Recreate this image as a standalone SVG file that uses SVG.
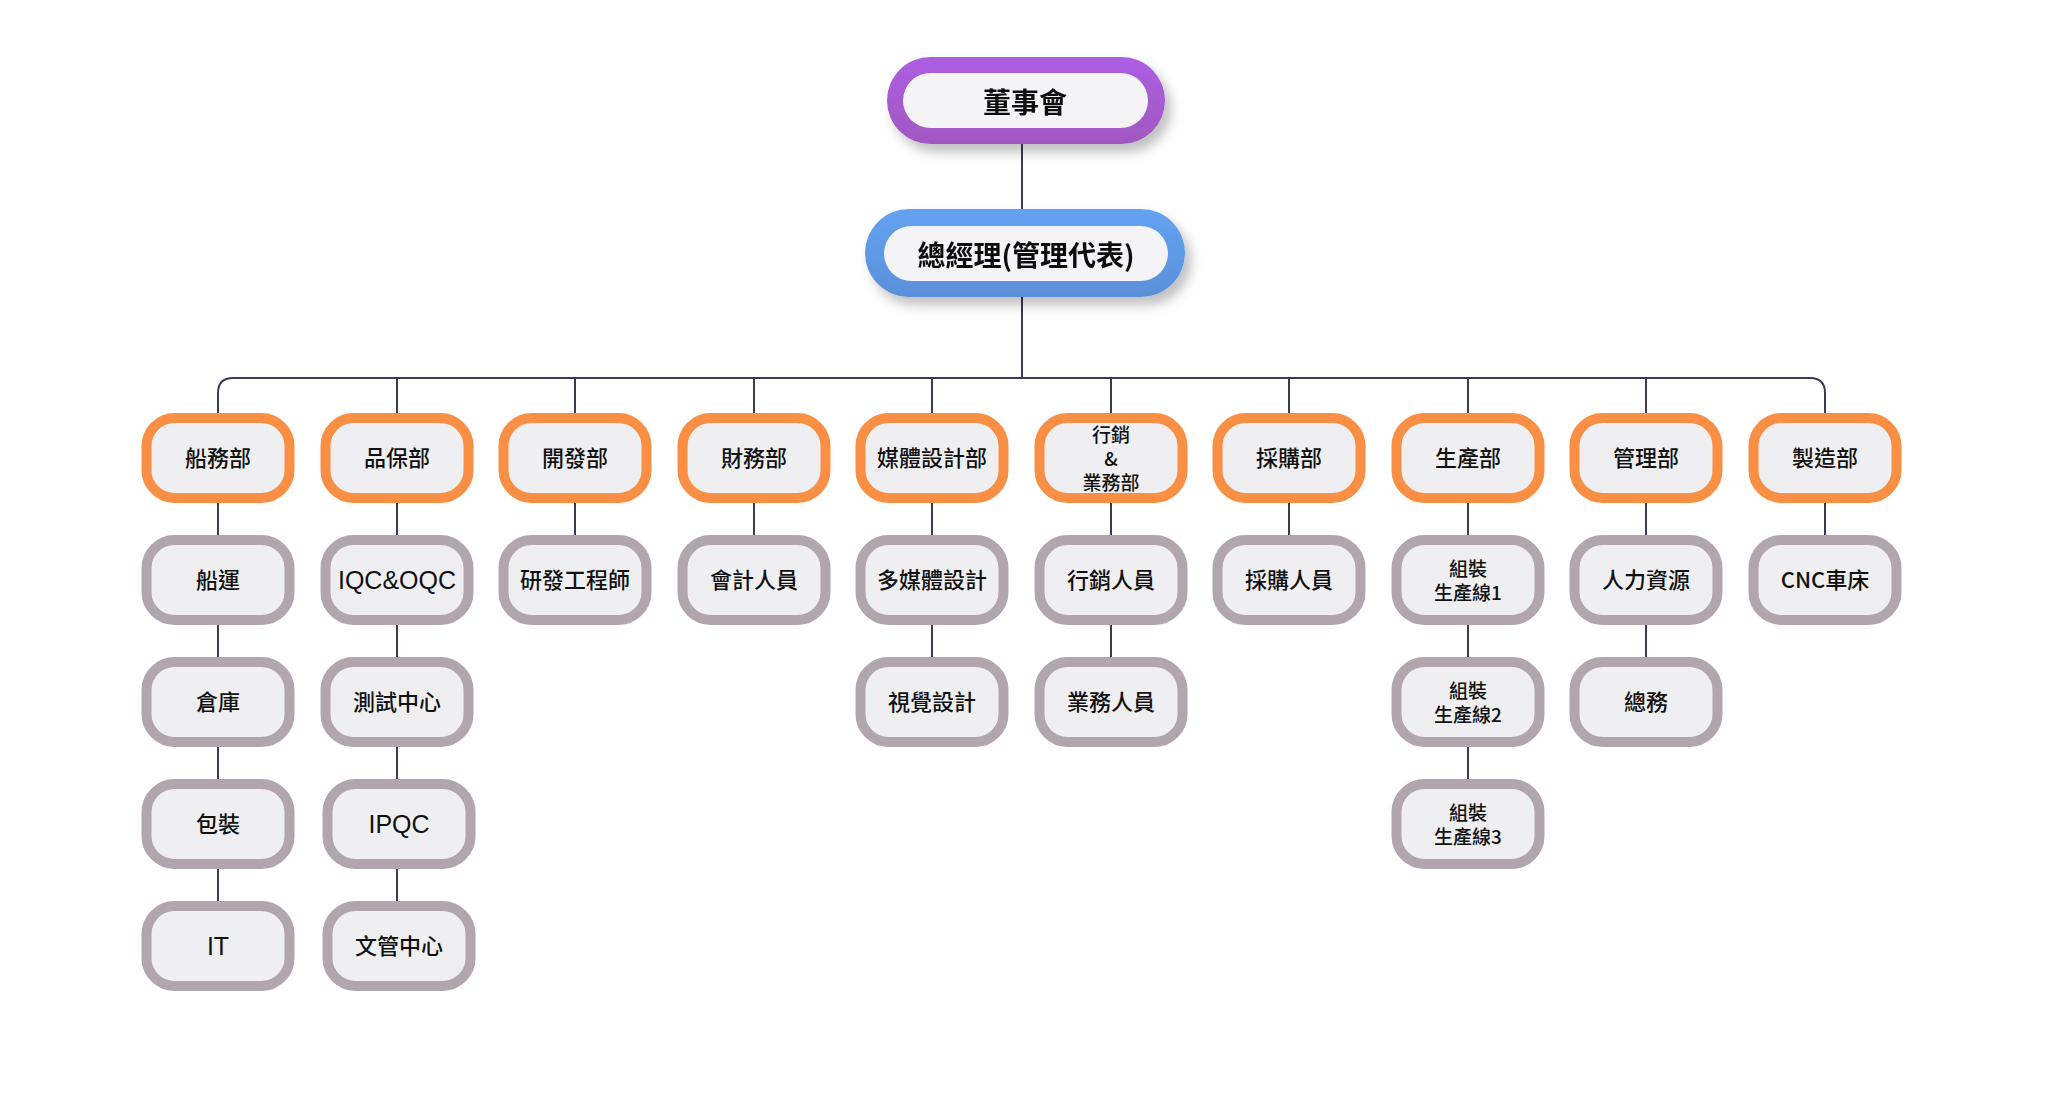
<svg xmlns="http://www.w3.org/2000/svg" width="2066" height="1100" viewBox="0 0 2066 1100">
<style>
text{font-family:"Noto Sans CJK TC","Noto Sans CJK SC",sans-serif;fill:#111;text-anchor:middle;dominant-baseline:central}
.n rect{fill:#efeff1;stroke-width:10}
.d rect{stroke:#f98f45}
.s rect{stroke:#b1a5ae}
.n text{font-size:22px;font-weight:500}
.n text.sm{font-size:19px}
.n text.lat{font-family:"Liberation Sans",sans-serif;font-weight:400;font-size:25px}
.t text{font-size:28px;font-weight:700}
#conn path{fill:none;stroke:#3b3a55;stroke-width:2}
</style>
<defs>
<filter id="sh" x="-20%" y="-30%" width="140%" height="170%"><feDropShadow dx="6" dy="8" stdDeviation="6" flood-color="#000" flood-opacity="0.25"/></filter>
<linearGradient id="gp" x1="0" y1="0" x2="0" y2="1"><stop offset="0" stop-color="#ac5ee2"/><stop offset="1" stop-color="#a058c0"/></linearGradient>
<linearGradient id="gb" x1="0" y1="0" x2="0" y2="1"><stop offset="0" stop-color="#64a2f2"/><stop offset="1" stop-color="#5a90d8"/></linearGradient>
</defs>
<g id="conn">
<path d="M1022 144V209M1022 297V378M218 413V393Q218 378 233 378H1810Q1825 378 1825 393V413"/>
<path d="M397 378V413M575 378V413M754 378V413M932 378V413M1111 378V413M1289 378V413M1468 378V413M1646 378V413"/>
<path d="M218 503V535M218 625V657M218 747V779M218 869V901"/>
<path d="M397 503V535M397 625V657M397 747V779M397 869V901"/>
<path d="M575 503V535M754 503V535M932 503V535M932 625V657M1111 503V535M1111 625V657M1289 503V535"/>
<path d="M1468 503V535M1468 625V657M1468 747V779M1646 503V535M1646 625V657M1825 503V535"/>
</g>
<g id="board" class="t" filter="url(#sh)"><rect x="887" y="57" width="278" height="87" rx="43.5" fill="url(#gp)"/><rect x="903" y="73" width="245" height="55" rx="27.5" fill="#f4f4f6"/><text x="1025" y="101">董事會</text></g>
<g id="gm" class="t" filter="url(#sh)"><rect x="865" y="209" width="320" height="88" rx="44" fill="url(#gb)"/><rect x="884" y="226" width="284" height="55" rx="27.5" fill="#f4f4f6"/><text x="1026" y="254">總經理(管理代表)</text></g>
<g class="n d">
<g id="d0" transform="translate(218,458)"><rect x="-71.5" y="-40" width="143" height="80" rx="28"/><text y="-2">船務部</text></g>
<g id="d1" transform="translate(397,458)"><rect x="-71.5" y="-40" width="143" height="80" rx="28"/><text y="-2">品保部</text></g>
<g id="d2" transform="translate(575,458)"><rect x="-71.5" y="-40" width="143" height="80" rx="28"/><text y="-2">開發部</text></g>
<g id="d3" transform="translate(754,458)"><rect x="-71.5" y="-40" width="143" height="80" rx="28"/><text y="-2">財務部</text></g>
<g id="d4" transform="translate(932,458)"><rect x="-71.5" y="-40" width="143" height="80" rx="28"/><text y="-2">媒體設計部</text></g>
<g id="d5" transform="translate(1111,458)"><rect x="-71.5" y="-40" width="143" height="80" rx="28"/><text class="sm" y="-25">行銷</text><text class="sm" y="-1">&amp;</text><text class="sm" y="23">業務部</text></g>
<g id="d6" transform="translate(1289,458)"><rect x="-71.5" y="-40" width="143" height="80" rx="28"/><text y="-2">採購部</text></g>
<g id="d7" transform="translate(1468,458)"><rect x="-71.5" y="-40" width="143" height="80" rx="28"/><text y="-2">生產部</text></g>
<g id="d8" transform="translate(1646,458)"><rect x="-71.5" y="-40" width="143" height="80" rx="28"/><text y="-2">管理部</text></g>
<g id="d9" transform="translate(1825,458)"><rect x="-71.5" y="-40" width="143" height="80" rx="28"/><text y="-2">製造部</text></g>
</g>
<g class="n s">
<g id="s00" transform="translate(218,580)"><rect x="-71.5" y="-40" width="143" height="80" rx="28"/><text y="-2">船運</text></g>
<g id="s01" transform="translate(218,702)"><rect x="-71.5" y="-40" width="143" height="80" rx="28"/><text y="-2">倉庫</text></g>
<g id="s02" transform="translate(218,824)"><rect x="-71.5" y="-40" width="143" height="80" rx="28"/><text y="-2">包裝</text></g>
<g id="s03" transform="translate(218,946)"><rect x="-71.5" y="-40" width="143" height="80" rx="28"/><text class="lat">IT</text></g>
<g id="s10" transform="translate(397,580)"><rect x="-71.5" y="-40" width="143" height="80" rx="28"/><text class="lat">IQC&amp;OQC</text></g>
<g id="s11" transform="translate(397,702)"><rect x="-71.5" y="-40" width="143" height="80" rx="28"/><text y="-2">測試中心</text></g>
<g id="s12" transform="translate(399,824)"><rect x="-71.5" y="-40" width="143" height="80" rx="28"/><text class="lat">IPQC</text></g>
<g id="s13" transform="translate(399,946)"><rect x="-71.5" y="-40" width="143" height="80" rx="28"/><text y="-2">文管中心</text></g>
<g id="s20" transform="translate(575,580)"><rect x="-71.5" y="-40" width="143" height="80" rx="28"/><text y="-2">研發工程師</text></g>
<g id="s30" transform="translate(754,580)"><rect x="-71.5" y="-40" width="143" height="80" rx="28"/><text y="-2">會計人員</text></g>
<g id="s40" transform="translate(932,580)"><rect x="-71.5" y="-40" width="143" height="80" rx="28"/><text y="-2">多媒體設計</text></g>
<g id="s41" transform="translate(932,702)"><rect x="-71.5" y="-40" width="143" height="80" rx="28"/><text y="-2">視覺設計</text></g>
<g id="s50" transform="translate(1111,580)"><rect x="-71.5" y="-40" width="143" height="80" rx="28"/><text y="-2">行銷人員</text></g>
<g id="s51" transform="translate(1111,702)"><rect x="-71.5" y="-40" width="143" height="80" rx="28"/><text y="-2">業務人員</text></g>
<g id="s60" transform="translate(1289,580)"><rect x="-71.5" y="-40" width="143" height="80" rx="28"/><text y="-2">採購人員</text></g>
<g id="s70" transform="translate(1468,580)"><rect x="-71.5" y="-40" width="143" height="80" rx="28"/><text class="sm" y="-13">組裝</text><text class="sm" y="11">生產線1</text></g>
<g id="s71" transform="translate(1468,702)"><rect x="-71.5" y="-40" width="143" height="80" rx="28"/><text class="sm" y="-13">組裝</text><text class="sm" y="11">生產線2</text></g>
<g id="s72" transform="translate(1468,824)"><rect x="-71.5" y="-40" width="143" height="80" rx="28"/><text class="sm" y="-13">組裝</text><text class="sm" y="11">生產線3</text></g>
<g id="s80" transform="translate(1646,580)"><rect x="-71.5" y="-40" width="143" height="80" rx="28"/><text y="-2">人力資源</text></g>
<g id="s81" transform="translate(1646,702)"><rect x="-71.5" y="-40" width="143" height="80" rx="28"/><text y="-2">總務</text></g>
<g id="s90" transform="translate(1825,580)"><rect x="-71.5" y="-40" width="143" height="80" rx="28"/><text y="-2">CNC車床</text></g>
</g>
</svg>
